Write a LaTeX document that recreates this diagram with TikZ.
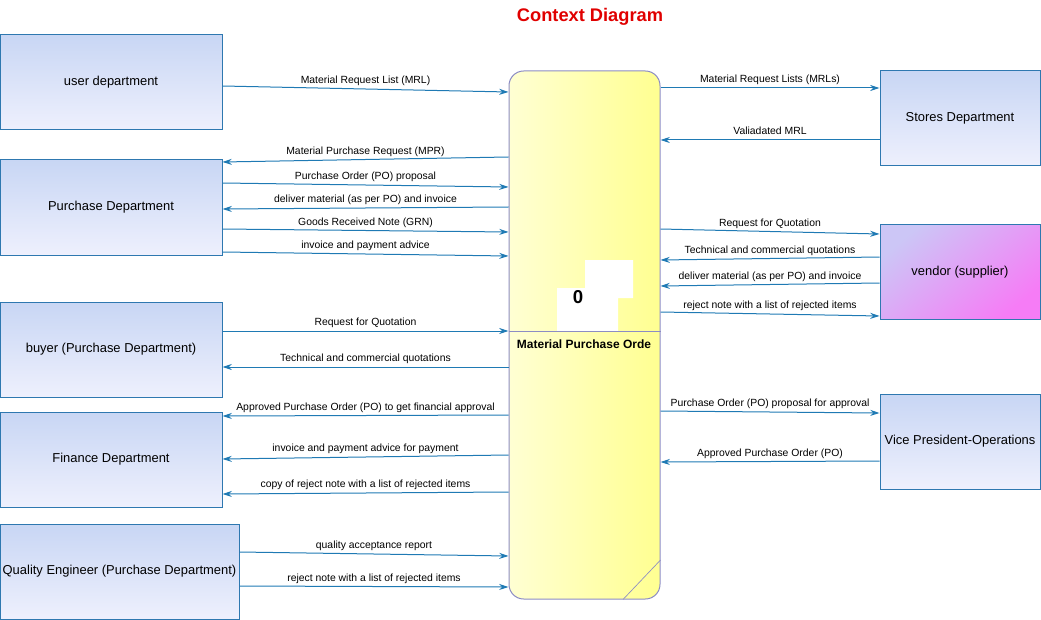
\documentclass[tikz,border=0pt]{standalone}
\usepackage{fontspec}
\setmainfont{Liberation Sans}
\usetikzlibrary{arrows.meta}
\definecolor{flowblue}{HTML}{1F7AB4}
\definecolor{boxline}{HTML}{2E78B0}
\definecolor{enttop}{HTML}{C8D6F4}
\definecolor{entbot}{HTML}{EEF0FD}
\definecolor{vendtop}{HTML}{CCC6F6}
\definecolor{vendbot}{HTML}{F67CF6}
\definecolor{procleft}{HTML}{FFFFF4}
\definecolor{procright}{HTML}{FFFF70}
\definecolor{procline}{HTML}{8C8CC4}
\definecolor{titlered}{HTML}{E00000}
\pgfdeclarehorizontalshading{procshade}{100bp}{color(0bp)=(procleft); color(100bp)=(procright)}
\begin{document}
\begin{tikzpicture}[x=0.75pt,y=-0.75pt,
    entity/.style={draw=boxline, line width=0.75pt, top color=enttop, bottom color=entbot,
      minimum width=166.5pt, minimum height=71.25pt, inner sep=1pt, font=\fontsize{9.7}{11}\selectfont},
    process/.style={draw=procline, line width=0.75pt, rounded corners=11pt, shading=procshade,
      minimum width=113.25pt, minimum height=396pt},
    flow/.style={draw=flowblue, line width=0.75pt, -{Stealth[length=7pt,width=4.5pt]}},
    lbl/.style={midway, anchor=base, yshift=4pt, inner sep=0pt, font=\fontsize{7.8}{9}\selectfont}]
  \useasboundingbox (0,0) rectangle (1041,620);
  \node[font=\bfseries\fontsize{13.7}{16}\selectfont, text=titlered] (title) at (590,17) {Context Diagram};
  % entities left
  \node[entity] (user) at (111,82) {user department};
  \node[entity] (purch) at (111,207.5) {Purchase Department};
  \node[entity] (buyer) at (111,349.5) {buyer (Purchase Department)};
  \node[entity] (fin) at (111,459.5) {Finance Department};
  \node[entity, minimum width=179.25pt] (qe) at (119.5,571.5) {Quality Engineer (Purchase Department)};
  % entities right
  \node[entity, minimum width=120pt] (stores) at (960,118.5) {Stores Department};
  \node[entity, minimum width=120pt, top color=vendtop, bottom color=vendbot, shading angle=40] (vendor) at (960,272) {vendor (supplier)};
  \node[entity, minimum width=120pt] (vp) at (960,441.5) {Vice President-Operations};
  % process
  \node[process, shade] (proc) at (584.5,335) {};
  \fill[white] (585,260) -- (633,260) -- (633,298) -- (618,298) -- (618,331) -- (557,331) -- (557,288) -- (585,288) -- cycle;
  \node[font=\bfseries\fontsize{14}{16}\selectfont] (pid) at (578,297) {0};
  \draw[procline, line width=0.75pt] (proc.west |- 0,331) -- (proc.east |- 0,331); %separateur
  \node[font=\bfseries\fontsize{9}{11}\selectfont] (pname) at (584,344) {Material Purchase Orde};
  \draw[procline, line width=0.5pt] (proc.south -| 623,0) -- (proc.east |- 0,560); %coin plie
  % flows left
  \draw[flow] (user.east |- 0,86) -- node[lbl]{Material Request List (MRL)} (proc.west |- 0,92);
  \draw[flow] (proc.west |- 0,157) -- node[lbl]{Material Purchase Request (MPR)} (purch.east |- 0,162);
  \draw[flow] (purch.east |- 0,183) -- node[lbl]{Purchase Order (PO) proposal} (proc.west |- 0,187);
  \draw[flow] (proc.west |- 0,207) -- node[lbl]{deliver material (as per PO) and invoice} (purch.east |- 0,209);
  \draw[flow] (purch.east |- 0,229) -- node[lbl]{Goods Received Note (GRN)} (proc.west |- 0,232);
  \draw[flow] (purch.east |- 0,252) -- node[lbl]{invoice and payment advice} (proc.west |- 0,256);
  \draw[flow] (buyer.east |- 0,331) -- node[lbl]{Request for Quotation} (proc.west |- 0,331);
  \draw[flow] (proc.west |- 0,367) -- node[lbl]{Technical and commercial quotations} (buyer.east |- 0,367);
  \draw[flow] (proc.west |- 0,415) -- node[lbl]{Approved Purchase Order (PO) to get financial approval} (fin.east |- 0,416);
  \draw[flow] (proc.west |- 0,455) -- node[lbl]{invoice and payment advice for payment} (fin.east |- 0,459);
  \draw[flow] (proc.west |- 0,492) -- node[lbl]{copy of reject note with a list of rejected items} (fin.east |- 0,494);
  \draw[flow] (qe.east |- 0,552) -- node[lbl]{quality acceptance report} (proc.west |- 0,556);
  \draw[flow] (qe.east |- 0,586) -- node[lbl]{reject note with a list of rejected items} (proc.west |- 0,587);
  % flows right
  \draw[flow] (proc.east |- 0,88) -- node[lbl]{Material Request Lists (MRLs)} (stores.west |- 0,88);
  \draw[flow] (stores.west |- 0,140) -- node[lbl]{Valiadated MRL} (proc.east |- 0,140);
  \draw[flow] (proc.east |- 0,229) -- node[lbl]{Request for Quotation} (vendor.west |- 0,234);
  \draw[flow] (vendor.west |- 0,257) -- node[lbl]{Technical and commercial quotations} (proc.east |- 0,260);
  \draw[flow] (vendor.west |- 0,283) -- node[lbl]{deliver material (as per PO) and invoice} (proc.east |- 0,286);
  \draw[flow] (proc.east |- 0,312) -- node[lbl]{reject note with a list of rejected items} (vendor.west |- 0,316);
  \draw[flow] (proc.east |- 0,411) -- node[lbl]{Purchase Order (PO) proposal for approval} (vp.west |- 0,413);
  \draw[flow] (vp.west |- 0,461) -- node[lbl]{Approved Purchase Order (PO)} (proc.east |- 0,462);
\end{tikzpicture}
\end{document}
